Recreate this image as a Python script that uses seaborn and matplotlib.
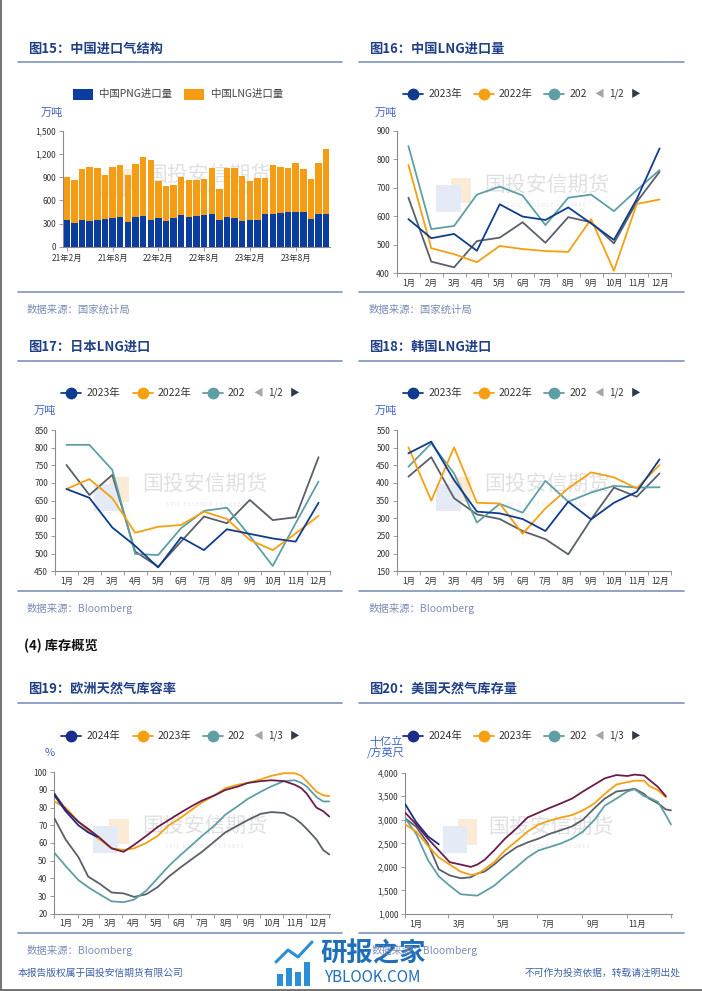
import numpy as np
import pandas as pd
import matplotlib
matplotlib.use("Agg")
import matplotlib.pyplot as plt
from matplotlib.lines import Line2D
from matplotlib.patches import Rectangle
import matplotlib.ticker as mticker
import seaborn as sns

# ---------------- data ----------------
months = ['1月', '2月', '3月', '4月', '5月', '6月', '7月', '8月', '9月', '10月', '11月', '12月']

# 图15 中国进口气结构 (万吨), 21年2月 .. 23年12月
bar_tick_labels = ['21年2月', '21年8月', '22年2月', '22年8月', '23年2月', '23年8月']
png_import = [351, 309, 343, 330, 343, 360, 373, 381, 321, 381, 403, 347, 369, 339, 373, 416, 386, 394,
              411, 429, 351, 381, 369, 334, 351, 351, 424, 429, 441, 446, 450, 446, 360, 429, 429]
lng_import = [558, 557, 664, 699, 673, 570, 664, 678, 613, 686, 754, 776, 484, 454, 428, 493, 480, 472,
              468, 587, 403, 643, 655, 587, 506, 536, 472, 630, 596, 578, 630, 565, 514, 660, 835]

# 图16 中国LNG进口量 (万吨)
cn_2023 = [590, 523, 538, 479, 642, 599, 587, 631, 575, 517, 660, 838]
cn_2022 = [780, 488, 467, 439, 496, 485, 478, 475, 590, 409, 643, 659]
cn_2021 = [846, 555, 566, 676, 704, 673, 569, 665, 676, 618, 692, 762]
cn_2020 = [665, 441, 421, 513, 525, 579, 507, 597, 579, 505, 650, 756]

# 图17 日本LNG进口 (万吨)
jp_2023 = [683, 658, 574, 522, 461, 546, 510, 569, 556, 543, 534, 644]
jp_2022 = [683, 711, 657, 559, 576, 581, 619, 598, 539, 510, 557, 607]
jp_2021 = [808, 808, 737, 499, 496, 572, 621, 630, 550, 465, 586, 704]
jp_2020 = [751, 666, 723, 506, 463, 534, 605, 586, 652, 595, 603, 773]

# 图18 韩国LNG进口 (万吨)
kr_2023 = [484, 517, 408, 319, 314, 298, 264, 347, 297, 344, 375, 467]
kr_2022 = [501, 350, 501, 344, 342, 256, 328, 385, 430, 416, 385, 451]
kr_2021 = [446, 512, 427, 288, 341, 316, 406, 347, 373, 392, 387, 388]
kr_2020 = [418, 473, 357, 311, 298, 264, 241, 198, 297, 387, 361, 427]

# 图19 欧洲天然气库容率 (%), by day of year
eu_days = [0, 15, 32, 45, 60, 76, 92, 106, 122, 137, 152, 167, 183, 196, 213, 227, 244, 257, 274, 288,
           305, 319, 328, 335, 348, 357, 365]
eu_2024_days = [0, 15, 32, 45, 57]
eu_2024 = [87, 78, 70, 66, 63.5]
eu_2023 = [83.5, 80, 72, 67, 62, 57, 56, 57, 60, 64, 70, 74, 79, 83, 87, 91, 93, 94, 96, 98,
           99.5, 99.5, 98, 95, 89, 87, 86.5]
eu_2022 = [54.5, 47, 39, 35, 31, 27, 26.5, 28, 33, 40, 47, 53, 59, 64, 70, 76, 81, 85, 89, 92,
           95, 95.5, 94, 92, 86, 83.5, 83.5]
eu_2021 = [74, 62, 52, 41, 37, 32, 31.5, 29.5, 31, 35, 41, 46, 51, 55, 61, 66, 70, 73, 76.5, 77.5,
           77, 74, 71, 68, 62, 56, 53.5]
eu_2020 = [88, 79, 72, 68, 63, 57, 55, 59, 64, 69, 73, 77, 81, 84, 87, 90, 92, 94, 95, 95.5,
           95, 93, 91, 88, 80, 78, 75]

# 图20 美国天然气库存量 (十亿立方英尺), by day of year
us_days = [0, 15, 31, 46, 61, 76, 90, 99, 109, 122, 137, 153, 168, 183, 198, 214, 229, 244, 260, 274,
           290, 305, 315, 328, 335, 347, 358, 365]
us_2024_days = [0, 5, 15, 31, 46]
us_2024 = [3330, 3200, 2950, 2650, 2480]
us_2023 = [2900, 2750, 2450, 2200, 2050, 1900, 1830, 1850, 1950, 2100, 2350, 2550, 2750, 2900,
           2980, 3050, 3100, 3200, 3350, 3550, 3750, 3800, 3830, 3830, 3720, 3630, 3480, np.nan]
us_2022 = [3030, 2700, 2150, 1800, 1600, 1420, 1400, 1390, 1480, 1600, 1800, 2000, 2200, 2350,
           2420, 2500, 2600, 2750, 3000, 3300, 3450, 3600, 3650, 3500, 3470, 3380, 3100, 2900]
us_2021 = [3030, 2850, 2500, 1950, 1820, 1760, 1780, 1860, 1900, 2050, 2250, 2420, 2520, 2600,
           2700, 2780, 2860, 3000, 3250, 3450, 3600, 3630, 3660, 3550, 3450, 3350, 3220, 3200]
us_2020 = [3150, 2900, 2600, 2350, 2100, 2050, 2000, 2050, 2150, 2350, 2600, 2820, 3050, 3150,
           3250, 3350, 3450, 3600, 3750, 3880, 3950, 3930, 3960, 3940, 3850, 3700, 3500, np.nan]

# ---------------- style ----------------
BAR_BLUE = '#0B3D9E'
BAR_ORANGE = '#F49D14'
NAVY = '#103C8F'
ORANGE = '#F5A012'
TEAL = '#5E9FA5'
GRAY = '#596069'
MAROON = '#6B1D4A'
INDIGO = '#1B2C8A'
TITLE_C = '#1F3F86'
RULE_C = '#7D93BF'
SRC_C = '#7A8DB8'
UNIT_C = '#3F63C8'
SPINE = '#8A8A8A'
TICK_C = '#333333'

sns.set_theme(style="ticks")
plt.rcParams['font.family'] = ['Noto Sans CJK SC', 'DejaVu Sans']
plt.rcParams['axes.unicode_minus'] = False

W, H = 702, 991
fig = plt.figure(figsize=(W / 100, H / 100), dpi=100, facecolor='white')


def fx(x):
    return x / W


def fy(y):
    return 1 - y / H


def make_ax(l, t, r, b):
    ax = fig.add_axes([fx(l), fy(b), (r - l) / W, (b - t) / H])
    ax.set_facecolor('white')
    return ax


def ftext(x, y, s, **kw):
    kw.setdefault('va', 'center')
    return fig.text(fx(x), fy(y), s, **kw)


def hline(x0, x1, y, color, lw):
    fig.add_artist(Line2D([fx(x0), fx(x1)], [fy(y), fy(y)], color=color, lw=lw,
                          transform=fig.transFigure))


def style(ax):
    sns.despine(ax=ax)
    for s in ('left', 'bottom'):
        ax.spines[s].set_color(SPINE)
        ax.spines[s].set_linewidth(0.8)
    ax.tick_params(which='major', length=3, width=0.6, color=SPINE, labelsize=6,
                   labelcolor=TICK_C, pad=2)
    ax.set_xlabel('')
    ax.set_ylabel('')


def watermark(ax):
    ax.add_patch(Rectangle((0.197, 0.49), 0.073, 0.18, transform=ax.transAxes,
                           color='#FBEBD6', zorder=0, lw=0))
    ax.add_patch(Rectangle((0.142, 0.43), 0.09, 0.19, transform=ax.transAxes,
                           color='#E4EAF6', zorder=0.1, lw=0))
    ax.text(0.545, 0.62, '国投安信期货', transform=ax.transAxes, ha='center', va='center',
            fontsize=15, color='#E0E0E0', zorder=0.2)
    ax.text(0.545, 0.475, 'S D I C   E S S E N C E   F U T U R E S', transform=ax.transAxes,
            ha='center', va='center', fontsize=3.6, color='#E4E4E4', zorder=0.2)


def month_axis(ax):
    ax.set_xlim(-0.5, 11.5)
    ax.set_xticks(np.arange(-0.5, 12, 1.0))
    ax.set_xticklabels([])
    ax.set_xticks(np.arange(12), minor=True)
    ax.set_xticklabels(months, minor=True)
    ax.tick_params(axis='x', which='minor', length=0, labelsize=6, labelcolor=TICK_C, pad=4)


def legend_lines(base, y, names, colors, pager):
    offs_line = [0, 71.6, 141.6]
    offs_text = [25.6, 96, 166.6]
    for ol, ot, nm, c in zip(offs_line, offs_text, names, colors):
        x0, x1 = base + ol, base + ol + 20
        fig.add_artist(Line2D([fx(x0), fx(x1)], [fy(y), fy(y)], color=c, lw=1.3,
                              transform=fig.transFigure))
        fig.add_artist(Line2D([fx((x0 + x1) / 2)], [fy(y)], color=c, marker='o', ms=7.5, lw=0,
                              transform=fig.transFigure))
        ftext(base + ot, y, nm, fontsize=7.5, color='#333333', ha='left')
    ftext(base + 196.6, y, '◀', fontsize=7, color='#A6A6A6', ha='center')
    ftext(base + 206.6, y, pager, fontsize=7, color='#333333', ha='left')
    ftext(base + 233.3, y, '▶', fontsize=7, color='#2E3A48', ha='center')


def month_lines(ax, series, palette, ylim, yticks):
    frames = []
    for name, vals in series.items():
        frames.append(pd.DataFrame({'m': np.arange(12), 'v': vals, 's': name}))
    df = pd.concat(frames, ignore_index=True)
    sns.lineplot(data=df, x='m', y='v', hue='s', hue_order=list(series.keys()), palette=palette,
                 legend=False, ax=ax, linewidth=1.3, estimator=None, zorder=3)
    style(ax)
    month_axis(ax)
    ax.set_ylim(*ylim)
    ax.set_yticks(yticks)
    watermark(ax)


def day_lines(ax, series, palette):
    frames = []
    for name, (days, vals) in series.items():
        frames.append(pd.DataFrame({'d': days, 'v': vals, 's': name}))
    df = pd.concat(frames, ignore_index=True).dropna()
    sns.lineplot(data=df, x='d', y='v', hue='s', hue_order=list(series.keys()), palette=palette,
                 legend=False, ax=ax, linewidth=1.3, estimator=None, zorder=3)
    style(ax)
    watermark(ax)


# ---------------- frame, titles, rules ----------------
fig.add_artist(Line2D([fx(1), fx(1)], [0, 1], color='#777777', lw=1.5, transform=fig.transFigure))
hline(0, W, 989.5, '#6D6D6D', 2.0)

titles = [(28, 49, '图15：中国进口气结构'), (369, 49, '图16：中国LNG进口量'),
          (28, 347, '图17：日本LNG进口'), (369, 347, '图18：韩国LNG进口'),
          (28, 689, '图19：欧洲天然气库容率'), (369, 689, '图20：美国天然气库存量')]
for x, y, s in titles:
    ftext(x, y, s, fontsize=9.5, fontweight='bold', color=TITLE_C, ha='left')

for y in (62, 292, 361, 591, 703, 933):
    hline(18, 342, y, RULE_C, 1.2)
    hline(359, 684, y, RULE_C, 1.2)

sources = [(27, 310, '数据来源：国家统计局'), (369, 310, '数据来源：国家统计局'),
           (27, 608, '数据来源：Bloomberg'), (369, 608, '数据来源：Bloomberg'),
           (27, 950, '数据来源：Bloomberg'), (372, 950, '数据来源：Bloomberg')]
for x, y, s in sources:
    ftext(x, y, s, fontsize=7.5, style='italic', color=SRC_C, ha='left', zorder=5)

ftext(24, 646, '(4) 库存概览', fontsize=9.5, fontweight='bold', color='#111111', ha='left')

ftext(18, 973, '本报告版权属于国投安信期货有限公司', fontsize=7, color='#3D62A8', ha='left')
ftext(681, 973, '不可作为投资依据，转载请注明出处', fontsize=7, color='#3D62A8', ha='right')

# 研报之家 site watermark
for bx, bh in [(277, 12), (286, 18), (295, 14), (304, 24)]:
    fig.add_artist(Rectangle((fx(bx), fy(986)), 6 / W, bh / H, color='#2A8FD6',
                             transform=fig.transFigure, lw=0))
fig.add_artist(Line2D([fx(276), fx(288), fx(298), fx(312)], [fy(962), fy(950), fy(957), fy(942)],
                      color='#2A8FD6', lw=2.2, transform=fig.transFigure))
ftext(373, 954, '研报之家', fontsize=19, color='#1F6FB8', ha='center', fontweight='bold', zorder=4)
ftext(373, 977, 'YBLOOK.COM', fontsize=11, color='#1F6FB8', ha='center')

# ---------------- 图15 ----------------
ax15 = make_ax(63, 130.7, 330, 247)
df15 = pd.DataFrame({'i': np.arange(len(png_import)), 'png': png_import, 'lng': lng_import})
df15['total'] = df15['png'] + df15['lng']
watermark(ax15)
sns.barplot(data=df15, x='i', y='total', color=BAR_ORANGE, saturation=1, width=0.84,
            linewidth=0, ax=ax15, zorder=3)
sns.barplot(data=df15, x='i', y='png', color=BAR_BLUE, saturation=1, width=0.84,
            linewidth=0, ax=ax15, zorder=4)
style(ax15)
ax15.set_xlim(-0.5, len(png_import) - 0.5)
ax15.set_xticks(np.arange(0, 31, 6))
ax15.set_xticklabels(bar_tick_labels)
ax15.set_ylim(0, 1500)
ax15.set_yticks(np.arange(0, 1501, 300))
ax15.yaxis.set_major_formatter(mticker.StrMethodFormatter('{x:,.0f}'))

fig.add_artist(Rectangle((fx(73), fy(99.5)), 20 / W, 11 / H, color=BAR_BLUE,
                         transform=fig.transFigure, lw=0))
ftext(99, 94, '中国PNG进口量', fontsize=7.5, color='#444444', ha='left')
fig.add_artist(Rectangle((fx(184), fy(99.5)), 20 / W, 11 / H, color=BAR_ORANGE,
                         transform=fig.transFigure, lw=0))
ftext(211, 94, '中国LNG进口量', fontsize=7.5, color='#444444', ha='left')
ftext(52, 113, '万吨', fontsize=8, color=UNIT_C, ha='center')

# ---------------- 图16 ----------------
pal4 = {'2020年': GRAY, '2021年': TEAL, '2022年': ORANGE, '2023年': NAVY}
ax16 = make_ax(397, 130.7, 671, 273.3)
month_lines(ax16, {'2020年': cn_2020, '2021年': cn_2021, '2022年': cn_2022, '2023年': cn_2023},
            pal4, (400, 900), np.arange(400, 901, 100))
legend_lines(402.7, 94, ['2023年', '2022年', '202'], [NAVY, ORANGE, TEAL], '1/2')
ftext(386, 113, '万吨', fontsize=8, color=UNIT_C, ha='center')

# ---------------- 图17 ----------------
ax17 = make_ax(55, 430, 330, 571.3)
month_lines(ax17, {'2020年': jp_2020, '2021年': jp_2021, '2022年': jp_2022, '2023年': jp_2023},
            pal4, (450, 850), np.arange(450, 851, 50))
legend_lines(61.4, 393, ['2023年', '2022年', '202'], [NAVY, ORANGE, TEAL], '1/2')
ftext(45, 411, '万吨', fontsize=8, color=UNIT_C, ha='center')

# ---------------- 图18 ----------------
ax18 = make_ax(397, 430, 671, 571.3)
month_lines(ax18, {'2020年': kr_2020, '2021年': kr_2021, '2022年': kr_2022, '2023年': kr_2023},
            pal4, (150, 550), np.arange(150, 551, 50))
legend_lines(402.7, 393, ['2023年', '2022年', '202'], [NAVY, ORANGE, TEAL], '1/2')
ftext(386, 411, '万吨', fontsize=8, color=UNIT_C, ha='center')

# ---------------- 图19 ----------------
pal5 = {'2021年': GRAY, '2022年': TEAL, '2023年': ORANGE, '2020年': MAROON, '2024年': INDIGO}
ax19 = make_ax(54.3, 772.3, 330, 913.7)
day_lines(ax19, {'2021年': (eu_days, eu_2021), '2022年': (eu_days, eu_2022),
                 '2023年': (eu_days, eu_2023), '2020年': (eu_days, eu_2020),
                 '2024年': (eu_2024_days, eu_2024)}, pal5)
month_starts = [0, 31, 59, 90, 120, 151, 181, 212, 243, 273, 304, 334, 365]
ax19.set_xlim(0, 366)
ax19.set_xticks(month_starts)
ax19.set_xticklabels([])
ax19.set_xticks([(a + b) / 2 for a, b in zip(month_starts[:-1], month_starts[1:])], minor=True)
ax19.set_xticklabels(months, minor=True)
ax19.tick_params(axis='x', which='minor', length=0, labelsize=6, labelcolor=TICK_C, pad=4)
ax19.set_ylim(20, 100)
ax19.set_yticks(np.arange(20, 101, 10))
legend_lines(61.4, 736, ['2024年', '2023年', '202'], [INDIGO, ORANGE, TEAL], '1/3')
ftext(50, 753, '%', fontsize=8, color=UNIT_C, ha='center')

# ---------------- 图20 ----------------
ax20 = make_ax(405.3, 772.7, 671.7, 914)
day_lines(ax20, {'2021年': (us_days, us_2021), '2022年': (us_days, us_2022),
                 '2023年': (us_days, us_2023), '2020年': (us_days, us_2020),
                 '2024年': (us_2024_days, us_2024)}, pal5)
ax20.set_xlim(0, 366)
ax20.set_xticks([0, 59, 120, 181, 243, 304, 365])
ax20.set_xticklabels([])
ax20.set_xticks([15, 74, 135, 196, 258, 319], minor=True)
ax20.set_xticklabels(['1月', '3月', '5月', '7月', '9月', '11月'], minor=True)
ax20.tick_params(axis='x', which='minor', length=0, labelsize=6, labelcolor=TICK_C, pad=4)
ax20.set_ylim(1000, 4000)
ax20.set_yticks(np.arange(1000, 4001, 500))
ax20.yaxis.set_major_formatter(mticker.StrMethodFormatter('{x:,.0f}'))
legend_lines(402.7, 736, ['2024年', '2023年', '202'], [INDIGO, ORANGE, TEAL], '1/3')
ftext(386, 742, '十亿立', fontsize=8, color=UNIT_C, ha='center')
ftext(386, 753, '/方英尺', fontsize=8, color=UNIT_C, ha='center')

fig.savefig('out.png', dpi=100, facecolor='white')
